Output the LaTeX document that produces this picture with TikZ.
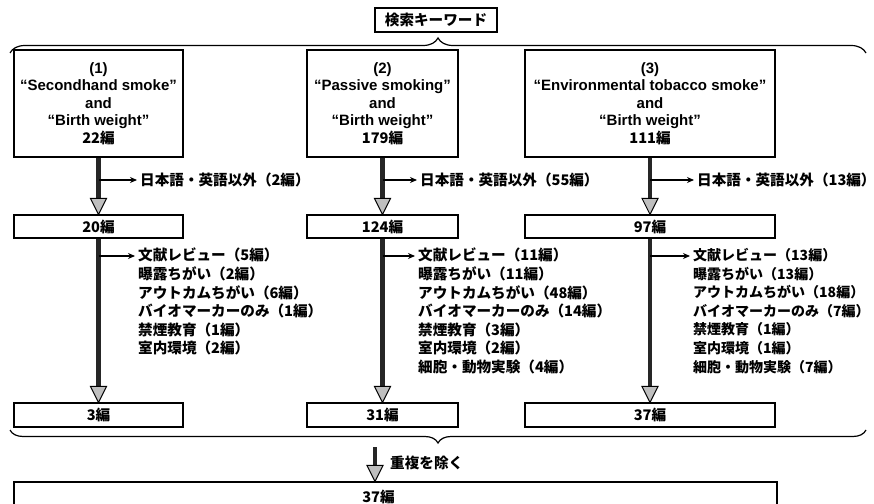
\documentclass[tikz,border=0pt]{standalone}
\usepackage{fontspec}
\setmainfont{Noto Sans CJK JP}
\newfontfamily\enfam{Liberation Sans}
\newcommand{\enf}{\enfam\bfseries\fontsize{15}{17.5}\selectfont}
\usetikzlibrary{arrows.meta,decorations.pathreplacing,calc}
\tikzset{
  box/.style={draw, line width=1.2pt, inner sep=0pt, align=center, font=\bfseries\fontsize{14.6}{17.5}\selectfont},
  jp/.style={font=\bfseries\fontsize{14.6}{18.6}\selectfont, inner sep=0pt},
  trunk/.style={line width=4.5pt, draw=black!85, shorten >=15pt},
  headst/.style={fill=gray!50, draw=black, line width=1pt, line join=miter},
  side/.style={line width=1.3pt, shorten >=3pt, -{Stealth[length=7pt,width=6pt]}},
  bracest/.style={decorate, line width=1.2pt}
}
\newcommand{\headat}[1]{\filldraw[headst] #1 -- ++(-8,-16) -- ++(16,0) -- cycle;}
\begin{document}
\begin{tikzpicture}[x=1pt,y=-1pt]
\useasboundingbox (0,0) rectangle (874,503);
\fill[white] (0,0) rectangle (874,503);
% keyword box and brace
\node[box, minimum width=122, minimum height=24] (kw) at (436,20) {検索キーワード};
\draw[bracest, decoration={brace, amplitude=15pt}] (10,53) -- (866,53);
% header boxes
\node[box, minimum width=169, minimum height=107] (b1) at (98.5,103.5)
  {{\enf (1)}\\{\enf “Secondhand smoke”}\\{\enf and}\\{\enf “Birth weight”}\\22編};
\node[box, minimum width=151, minimum height=107] (b2) at (382.5,103.5)
  {{\enf (2)}\\{\enf “Passive smoking”}\\{\enf and}\\{\enf “Birth weight”}\\179編};
\node[box, minimum width=250, minimum height=107] (b3) at (650,103.5)
  {{\enf (3)}\\{\enf “Environmental tobacco smoke”}\\{\enf and}\\{\enf “Birth weight”}\\111編};
% middle boxes
\node[box, minimum width=169, minimum height=23] (m1) at (98.5,226.5) {20編};
\node[box, minimum width=151, minimum height=23] (m2) at (382.5,226.5) {124編};
\node[box, minimum width=250, minimum height=23] (m3) at (650,226.5) {97編};
% final column boxes
\node[box, minimum width=169, minimum height=24] (f1) at (98.5,415) {3編};
\node[box, minimum width=151, minimum height=24] (f2) at (382.5,415) {31編};
\node[box, minimum width=250, minimum height=24] (f3) at (650,415) {37編};
% bottom box
\node[box, minimum width=763, minimum height=30] (fin) at (395.5,497) {\makebox[0pt][c]{37編\hspace*{34pt}}};
% language exclusion labels
\node[jp, anchor=west] (x1) at (140,180) {日本語・英語以外（2編）};
\node[jp, anchor=west] (x2) at (420,180) {日本語・英語以外（55編）};
\node[jp, anchor=west] (x3) at (697,180) {日本語・英語以外（13編）};
% exclusion lists
\node[jp, anchor=north west, align=left] (r1) at (138,248)
  {文献レビュー（5編）\\曝露ちがい（2編）\\アウトカムちがい（6編）\\バイオマーカーのみ（1編）\\禁煙教育（1編）\\室内環境（2編）};
\node[jp, anchor=north west, align=left] (r2) at (418,248)
  {文献レビュー（11編）\\曝露ちがい（11編）\\アウトカムちがい（48編）\\バイオマーカーのみ（14編）\\禁煙教育（3編）\\室内環境（2編）\\細胞・動物実験（4編）};
\node[jp, anchor=north west, align=left, font=\bfseries\fontsize{14}{18.6}\selectfont] (r3) at (693,248)
  {文献レビュー（13編）\\曝露ちがい（13編）\\アウトカムちがい（18編）\\バイオマーカーのみ（7編）\\禁煙教育（1編）\\室内環境（1編）\\細胞・動物実験（7編）};
\coordinate (a1) at (138,256);
\coordinate (a2) at (418,256);
\coordinate (a3) at (693,256);
% trunks
\draw[trunk] (b1.south) -- (m1.north); \headat{(m1.north)}
\draw[trunk] (b2.south) -- (m2.north); \headat{(m2.north)}
\draw[trunk] (b3.south) -- (m3.north); \headat{(m3.north)}
\draw[trunk] (m1.south) -- (f1.north); \headat{(f1.north)}
\draw[trunk] (m2.south) -- (f2.north); \headat{(f2.north)}
\draw[trunk] (m3.south) -- (f3.north); \headat{(f3.north)}
% side arrows
\draw[side] (b1.south |- x1.west) -- (x1.west);
\draw[side] (b2.south |- x2.west) -- (x2.west);
\draw[side] (b3.south |- x3.west) -- (x3.west);
\draw[side] (m1.south |- a1) -- (a1);
\draw[side] (m2.south |- a2) -- (a2);
\draw[side] (m3.south |- a3) -- (a3);
% lower brace and merge arrow
\draw[bracest, decoration={brace, mirror, amplitude=13pt}] (10,430) -- (866,430);
\coordinate (dt) at (375,447);
\coordinate (db) at (dt |- fin.north);
\draw[trunk] (dt) -- (db); \headat{(db)}
\node[jp, anchor=west] (dup) at (390,463) {重複を除く};
\end{tikzpicture}
\end{document}
